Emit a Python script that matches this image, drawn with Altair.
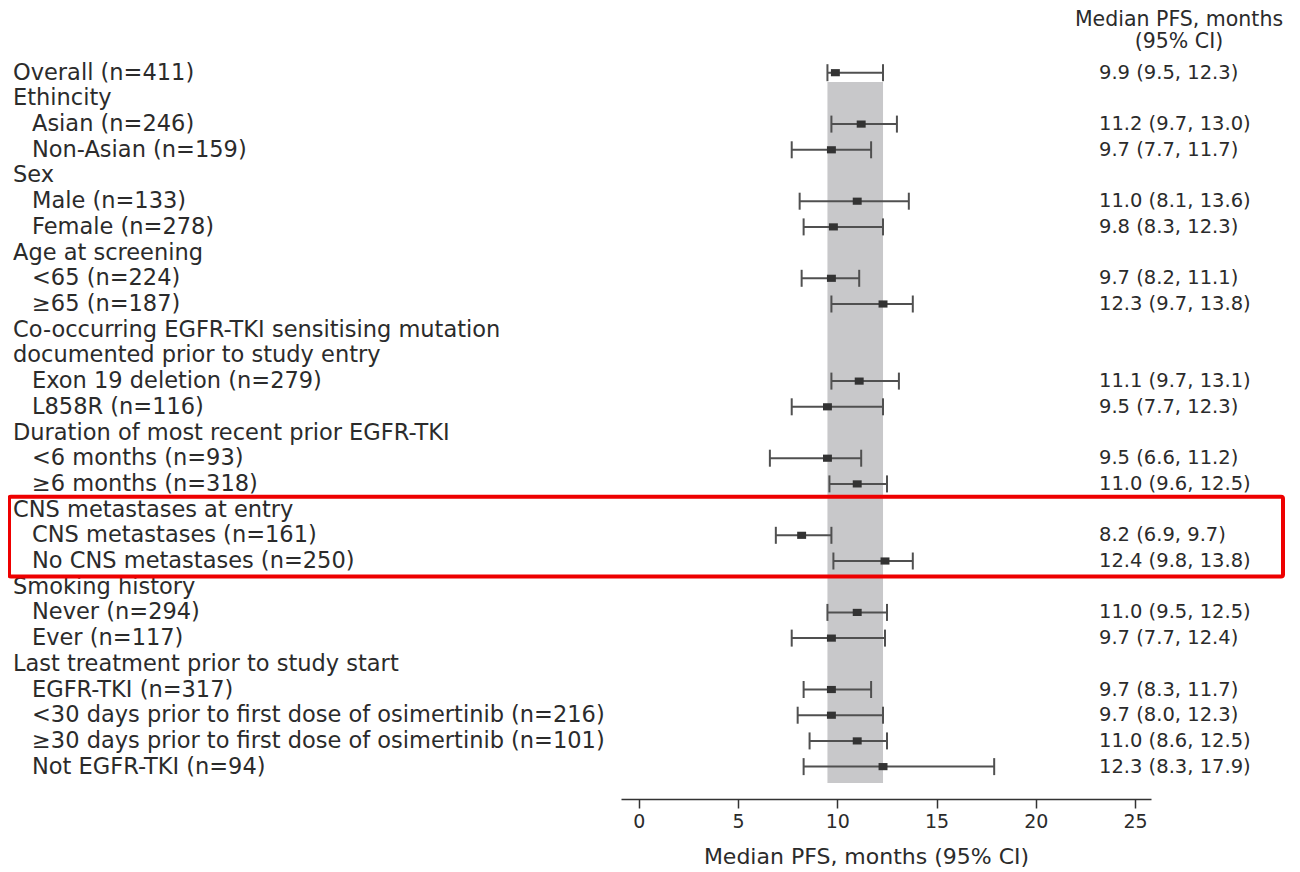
import altair as alt
import pandas as pd

labels = [
    "Overall (n=411)",
    "Ethincity",
    "Asian (n=246)",
    "Non-Asian (n=159)",
    "Sex",
    "Male (n=133)",
    "Female (n=278)",
    "Age at screening",
    "<65 (n=224)",
    "≥65 (n=187)",
    "Co-occurring EGFR-TKI sensitising mutation",
    "documented prior to study entry",
    "Exon 19 deletion (n=279)",
    "L858R (n=116)",
    "Duration of most recent prior EGFR-TKI",
    "<6 months (n=93)",
    "≥6 months (n=318)",
    "CNS metastases at entry",
    "CNS metastases (n=161)",
    "No CNS metastases (n=250)",
    "Smoking history",
    "Never (n=294)",
    "Ever (n=117)",
    "Last treatment prior to study start",
    "EGFR-TKI (n=317)",
    "<30 days prior to first dose of osimertinib (n=216)",
    "≥30 days prior to first dose of osimertinib (n=101)",
    "Not EGFR-TKI (n=94)",
]
levels = [0, 0, 1, 1, 0, 1, 1, 0, 1, 1, 0, 0, 1, 1, 0, 1, 1, 0, 1, 1, 0, 1, 1, 0, 1, 1, 1, 1]
medians = [9.9, None, 11.2, 9.7, None, 11.0, 9.8, None, 9.7, 12.3, None, None, 11.1, 9.5,
           None, 9.5, 11.0, None, 8.2, 12.4, None, 11.0, 9.7, None, 9.7, 9.7, 11.0, 12.3]
lows = [9.5, None, 9.7, 7.7, None, 8.1, 8.3, None, 8.2, 9.7, None, None, 9.7, 7.7,
        None, 6.6, 9.6, None, 6.9, 9.8, None, 9.5, 7.7, None, 8.3, 8.0, 8.6, 8.3]
highs = [12.3, None, 13.0, 11.7, None, 13.6, 12.3, None, 11.1, 13.8, None, None, 13.1, 12.3,
         None, 11.2, 12.5, None, 9.7, 13.8, None, 12.5, 12.4, None, 11.7, 12.3, 12.5, 17.9]
x_ticks = [0, 5, 10, 15, 20, 25]
header_lines = ["Median PFS, months", "(95% CI)"]
axis_title = "Median PFS, months (95% CI)"
highlight_first = "CNS metastases at entry"
highlight_last = "No CNS metastases (n=250)"

FONT = "DejaVu Sans"
TXT = "#2b2b2b"
LINE = "#505050"

rows = []
for i, (lab, lev, m, lo, hi) in enumerate(zip(labels, levels, medians, lows, highs)):
    rows.append({
        "row": i + 1,
        "label": lab,
        "level": lev,
        "med": m,
        "lo": lo,
        "hi": hi,
        "ci": (f"{m:.1f} ({lo:.1f}, {hi:.1f})" if m is not None else ""),
    })
df = pd.DataFrame(rows)
est = df[df["med"].notna()].copy()

xscale = alt.Scale(domain=[-0.9, 25.8], nice=False, zero=False)
yscale = alt.Scale(domain=[0.623, 29.26], reverse=True, nice=False, zero=False)
xaxis = alt.Axis(values=x_ticks, title=axis_title, grid=False, domainColor="#333",
                 tickColor="#333", tickSize=9, tickWidth=1.5, domainWidth=1.5,
                 labelFont=FONT, labelFontSize=19, labelColor=TXT, labelPadding=4,
                 titleFont=FONT, titleFontSize=22, titleFontWeight="normal",
                 titleColor=TXT, titlePadding=15, titleX=245, titleAlign="center")
Y = alt.Y("row:Q", scale=yscale, axis=None)

band_df = pd.DataFrame({"lo": [lows[0]], "hi": [highs[0]]})
band = alt.Chart(band_df).mark_rect(color="#c8c8ca").encode(
    x=alt.X("lo:Q", scale=xscale, axis=xaxis),
    x2="hi:Q",
    y=alt.value(19),
    y2=alt.value(720),
)

base = alt.Chart(est)
ci_line = base.mark_rule(color=LINE, strokeWidth=2).encode(
    x=alt.X("lo:Q", scale=xscale, axis=xaxis),
    x2="hi:Q",
    y=Y,
)
caps = base.transform_fold(["lo", "hi"], as_=["end", "xv"]).mark_tick(
    orient="vertical", color=LINE, size=17, thickness=2, opacity=1
).encode(
    x=alt.X("xv:Q", scale=xscale, axis=xaxis),
    y=Y,
)
pts = base.mark_point(shape="M-1,-0.8H1V0.8H-1Z", filled=True, size=80,
                      color="#333333", opacity=1).encode(
    x=alt.X("med:Q", scale=xscale, axis=xaxis),
    y=Y,
)

def text_layer(data, xpix, field, size):
    return alt.Chart(data).mark_text(align="left", baseline="middle", font=FONT,
                                     fontSize=size, color=TXT).encode(
        x=alt.value(xpix),
        y=Y,
        text=f"{field}:N",
    )

heads = text_layer(df[df["level"] == 0], -608, "label", 22.5)
subs = text_layer(df[df["level"] == 1], -589, "label", 22.5)
vals = text_layer(est, 478, "ci", 19.5)

def header(line, ypix):
    return alt.Chart(pd.DataFrame({"t": [line]})).mark_text(
        align="center", baseline="middle", font=FONT, fontSize=20.5, color=TXT
    ).encode(x=alt.value(558), y=alt.value(ypix), text="t:N")

hdr1 = header(header_lines[0], -43)
hdr2 = header(header_lines[1], -21)

r0 = labels.index(highlight_first) + 1
r1 = labels.index(highlight_last) + 1
hl_df = pd.DataFrame({"y0": [r0 - 0.5], "y1": [r1 + 0.6]})
highlight = alt.Chart(hl_df).mark_rect(filled=False, stroke="#ee0000", strokeWidth=4,
                                       cornerRadius=2).encode(
    x=alt.value(-612),
    x2=alt.value(662),
    y=alt.Y("y0:Q", scale=yscale, axis=None),
    y2="y1:Q",
)

chart = alt.layer(band, ci_line, caps, pts, heads, subs, vals, hdr1, hdr2, highlight).properties(
    width=530,
    height=736,
    background="white",
    autosize=alt.AutoSizeParams(type="none"),
    padding={"left": 613, "top": 55, "right": 141, "bottom": 73},
).configure_view(stroke=None, strokeWidth=0)

chart.save("out.html", embed_options={"renderer": "svg", "actions": False})
